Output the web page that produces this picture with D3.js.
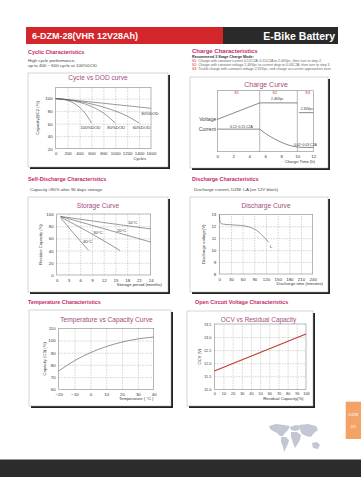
<!DOCTYPE html>
<html>
<head>
<meta charset="utf-8">
<script src="https://cdn.jsdelivr.net/npm/d3@7"></script>
<style>
  body { margin: 0; background: #fff; }
  svg text { font-family: "Liberation Sans", Arial, sans-serif; }
</style>
</head>
<body>
<div id="sheet"></div>
<script>
// ---- data ----
const cycleTicks = [0, 200, 400, 600, 800, 1000, 1200, 1400, 1600];
const cycleCapTicks = [20, 40, 60, 80, 100];
const dod100 = [[0, 100], [100, 99], [200, 97], [300, 93], [400, 86], [500, 76], [600, 61]];
const dod80 = [[0, 100], [200, 98], [400, 94], [600, 87.5], [800, 77], [1000, 61]];
const dod60 = [[0, 100], [300, 97], [600, 91.5], [900, 83.5], [1200, 72], [1400, 61]];
const dod30 = [[0, 100], [400, 96.5], [800, 92.5], [1200, 88.5], [1600, 84.5]];
const dodLabels = [["100%DOD", 585, 54], ["80%DOD", 1015, 54], ["60%DOD", 1440, 54], ["30%DOD", 1580, 76]];

const chargeTicks = [0, 2, 4, 6, 8, 10, 12];
const stageBreaks = [5.3, 10];
const stageNames = [["S1", 2.4], ["S2", 7.2], ["S3", 11.3]];
// relative levels (0 = bottom, 1 = top of plot)
const voltageS1S2 = [[0, 0.53], [5.3, 0.8], [10, 0.8]];
const voltageS3 = [[10.2, 0.64], [12, 0.64]];
const currentS1 = [[0, 0.37], [5.3, 0.37]];
const currentS2S3 = [[5.3, 0.37], [6, 0.3], [7, 0.22], [8, 0.155], [9, 0.105], [10, 0.077], [11, 0.07], [12, 0.07]];
const chargeNotes = [["2.46Vpc", 7.5, 0.86], ["0.12~0.15 C2A", 3.0, 0.41], ["0.02~0.03 C2A", 11.0, 0.1], ["2.30Vpc", 11.2, 0.7]];

const monthTicks = [0, 3, 6, 9, 12, 15, 18, 21, 24];
const residueTicks = [0, 20, 40, 60, 80, 100];
const store10 = [[1, 96], [12, 86], [24, 75.5]];
const store20 = [[1, 96], [12, 76], [24, 54]];
const store30 = [[1, 95], [8, 71], [16.2, 40]];
const store40 = [[1, 94], [4.5, 67], [8.2, 40]];
const storeLabels = [["10°C", 19.4, 86], ["20°C", 16.6, 73], ["30°C", 10.5, 69], ["40°C", 7.9, 55]];

const minuteTicks = [0, 30, 60, 90, 120, 150, 180, 210, 240];
const voltTicks = [8, 9, 10, 11, 12, 13];
const discharge = [[0, 12.95], [2, 12.4], [5, 12.22], [10, 12.18], [30, 12.12], [60, 12.05], [75, 11.95], [90, 11.76], [100, 11.55], [110, 11.25], [120, 10.92], [127, 10.66]];

const tempTicks = [-20, -10, 0, 10, 20, 30, 40];
const tempCapTicks = [60, 70, 80, 90, 100, 110];
const tempCap = [[-20, 75], [-10, 83.5], [0, 90], [10, 95], [20, 98.7], [30, 101.3], [40, 102.8]];

const residualTicks = [0, 10, 20, 30, 40, 50, 60, 70, 80, 90, 100];
const ocvTicks = [11.0, 11.5, 12.0, 12.5, 13.0, 13.5];
const ocv = [[0, 11.7], [50, 12.41], [100, 13.12]];

const SECTION = "#c42a6b", CHART_T = "#a34d7c", LINE = "#555";

const svg = d3.select("#sheet").append("svg")
  .attr("width", 361).attr("height", 500);

// ---- header ----
svg.append("rect").attr("x", 26).attr("y", 27).attr("width", 197).attr("height", 17).attr("fill", "#d3262b");
svg.append("rect").attr("x", 223).attr("y", 27).attr("width", 115).attr("height", 17).attr("fill", "#2a2a2a");
svg.append("text").attr("x", 32).attr("y", 39).attr("fill", "#fff")
  .attr("font-size", 9).attr("font-weight", "bold").text("6-DZM-28(VHR 12V28Ah)");
svg.append("text").attr("x", 335).attr("y", 39.5).attr("fill", "#fff").attr("text-anchor", "end")
  .attr("font-size", 10.5).attr("font-weight", "bold").text("E-Bike Battery");

function heading(x, y, txt, size) {
  svg.append("text").attr("x", x).attr("y", y).attr("fill", SECTION)
    .attr("font-size", size || 5.4).attr("font-weight", "bold").text(txt);
}
function note(x, y, txt, size, col) {
  return svg.append("text").attr("x", x).attr("y", y).attr("fill", col || "#444")
    .attr("font-size", size || 4.4).text(txt);
}

heading(28, 54, "Cyclic Characteristics");
note(28, 62.3, "High cycle performance,");
note(28, 67.3, "up to 400 ~ 600 cycle at  100%DOD");

heading(192, 53.3, "Charge Characteristics", 6);
note(192, 58, "Recommend 3 Stage Charge Mode:", 3.7, "#333").attr("font-weight", "bold");
[["S1:", " Charge with constant current 0.12C2A~0.15C2A to 2.46Vpc, then turn to step 2."],
 ["S2:", " Charge with constant voltage 2.46Vpc to current drop to  0.03C2A, then turn to step 3."],
 ["S3:", " Trickle charge with constant voltage 2.30Vpc, and charge as current approaches zero."]]
  .forEach((s, i) => {
    const t = note(192, 61.8 + i * 4.3, "", 3.5, "#666");
    t.append("tspan").attr("fill", "#d3262b").text(s[0]);
    t.append("tspan").text(s[1]);
  });

heading(28, 181, "Self-Discharge Characteristics");
note(30, 190.8, "Capacity >90% after 90 days storage");
heading(192, 181, "Discharge Characteristics");
note(194, 190.8, "Discharge current,  DZM: I\u2082A (on 12V block)");
heading(28, 304, "Temperature Characteristics");
heading(195, 304, "Open Circuit Voltage  Characteristics");

// ---- chart panel helper ----
function panel(o) {
  const g = svg.append("g");
  const [bx0, by0, bx1, by1] = o.box;
  g.append("rect").attr("x", bx0 + 2).attr("y", by0 + 2)
    .attr("width", bx1 - bx0).attr("height", by1 - by0).attr("fill", "#222");
  g.append("rect").attr("x", bx0).attr("y", by0)
    .attr("width", bx1 - bx0).attr("height", by1 - by0)
    .attr("fill", "#fff").attr("stroke", "#aaa").attr("stroke-width", 0.5);
  g.append("text").attr("x", o.titleX).attr("y", o.titleY).attr("text-anchor", "middle")
    .attr("fill", CHART_T).attr("font-size", o.titleSize || 6.6).text(o.title);

  const [px0, py0, px1, py1] = o.plot;
  const x = d3.scaleLinear().domain(o.xDomain).range([px0, px1]);
  const y = d3.scaleLinear().domain(o.yDomain).range([py1, py0]);

  if (o.grid !== false) {
    g.append("g").attr("transform", `translate(0,${py1})`)
      .call(d3.axisBottom(x).tickValues(o.xTicks.slice(1, -1)).tickSize(-(py1 - py0)).tickFormat(""))
      .call(a => a.select(".domain").remove())
      .selectAll("line").attr("stroke", "#aaa").attr("stroke-width", 0.5).attr("stroke-dasharray", "1.5,1.2");
    g.append("g").attr("transform", `translate(${px0},0)`)
      .call(d3.axisLeft(y).tickValues(o.yTicks.filter(v => y(v) > py0 + 1 && y(v) < py1 - 1)).tickSize(-(px1 - px0)).tickFormat(""))
      .call(a => a.select(".domain").remove())
      .selectAll("line").attr("stroke", "#aaa").attr("stroke-width", 0.5).attr("stroke-dasharray", "1.5,1.2");
  }
  g.append("rect").attr("x", px0).attr("y", py0).attr("width", px1 - px0).attr("height", py1 - py0)
    .attr("fill", "none").attr("stroke", "#888").attr("stroke-width", 0.6);

  const tickFont = o.serif ? "Liberation Serif, serif" : "Liberation Sans, sans-serif";
  g.append("g").attr("transform", `translate(0,${py1})`)
    .call(d3.axisBottom(x).tickValues(o.xTicks).tickSize(0).tickPadding(3.5).tickFormat(o.xFormat || d3.format("")))
    .call(a => a.select(".domain").remove())
    .selectAll("text").attr("font-family", tickFont).attr("font-size", 4.4).attr("fill", "#333");
  if (o.yTicks.length) {
    g.append("g").attr("transform", `translate(${px0},0)`)
      .call(d3.axisLeft(y).tickValues(o.yTicks).tickSize(0).tickPadding(3).tickFormat(o.yFormat || d3.format("")))
      .call(a => a.select(".domain").remove())
      .selectAll("text").attr("font-family", tickFont).attr("font-size", 4.4).attr("fill", "#333");
  }
  g.append("text").attr("x", o.xLabelX).attr("y", py1 + 11).attr("text-anchor", "end")
    .attr("font-size", 4.2).attr("fill", "#333").text(o.xLabel);
  if (o.yLabel) {
    g.append("text").attr("transform", `translate(${o.yLabelX},${(py0 + py1) / 2}) rotate(-90)`)
      .attr("text-anchor", "middle").attr("font-size", 4.2).attr("fill", "#333").text(o.yLabel);
  }
  return { g, x, y };
}

function drawLine(p, data, color, width, curve) {
  p.g.append("path").datum(data)
    .attr("fill", "none").attr("stroke", color || LINE).attr("stroke-width", width || 0.6)
    .attr("d", d3.line().x(d => p.x(d[0])).y(d => p.y(d[1])).curve(curve || d3.curveMonotoneX));
}
function drawLabels(p, labels, size) {
  p.g.selectAll(null).data(labels).join("text")
    .attr("x", d => p.x(d[1])).attr("y", d => p.y(d[2]))
    .attr("text-anchor", "middle").attr("dominant-baseline", "middle")
    .attr("font-family", "Liberation Serif, serif").attr("font-size", size || 4.2).attr("fill", "#333")
    .text(d => d[0]);
}

// ---- Cycle vs DOD ----
const cyc = panel({
  box: [28, 73, 168, 167], plot: [55.7, 87.3, 151, 148.7],
  title: "Cycle vs DOD curve", titleX: 98, titleY: 79.5,
  xDomain: [0, 1600], yDomain: [20, 118], xTicks: cycleTicks, yTicks: cycleCapTicks,
  xLabel: "Cycles", xLabelX: 146, yLabel: "Capacity@C2 (%)", yLabelX: 39, serif: true
});
[dod100, dod80, dod60, dod30].forEach(s => drawLine(cyc, s));
drawLabels(cyc, dodLabels);

// ---- Charge curve ----
const chg = panel({
  box: [190, 77, 328, 168], plot: [217.3, 90.7, 313.3, 151.7],
  title: "Charge Curve", titleX: 266, titleY: 86.5, titleSize: 7,
  xDomain: [0, 12], yDomain: [0, 1], xTicks: chargeTicks, yTicks: [], grid: false,
  xLabel: "Charge Time (h)", xLabelX: 315, serif: true
});
chg.g.selectAll(null).data(stageBreaks).join("line")
  .attr("x1", d => chg.x(d)).attr("x2", d => chg.x(d))
  .attr("y1", chg.y(1)).attr("y2", chg.y(0))
  .attr("stroke", "#888").attr("stroke-width", 0.6);
chg.g.selectAll(null).data(stageNames).join("text")
  .attr("x", d => chg.x(d[1])).attr("y", chg.y(0.95)).attr("text-anchor", "middle")
  .attr("font-size", 3.8).attr("fill", "#d3262b").text(d => d[0]);
drawLine(chg, voltageS1S2, LINE, 0.7, d3.curveLinear);
drawLine(chg, voltageS3, LINE, 0.7, d3.curveLinear);
drawLine(chg, currentS1, LINE, 0.7, d3.curveLinear);
drawLine(chg, currentS2S3, LINE, 0.7);
drawLabels(chg, chargeNotes, 3.4);
chg.g.append("text").attr("x", 216.5).attr("y", chg.y(0.53) + 1.6).attr("text-anchor", "end")
  .attr("font-size", 5.2).attr("fill", "#444").text("Voltage");
chg.g.append("text").attr("x", 216).attr("y", chg.y(0.37) + 1.6).attr("text-anchor", "end")
  .attr("font-size", 5.2).attr("fill", "#444").text("Current");

// ---- Storage curve ----
const sto = panel({
  box: [28, 197, 168, 292], plot: [56.7, 214, 150.7, 275],
  title: "Storage  Curve", titleX: 98, titleY: 208.2,
  xDomain: [0, 24], yDomain: [0, 100], xTicks: monthTicks, yTicks: residueTicks,
  xLabel: "Storage period (months)", xLabelX: 162, yLabel: "Residue Capacity (%)", yLabelX: 42, serif: true
});
[store10, store20, store30, store40].forEach(s => drawLine(sto, s));
drawLabels(sto, storeLabels);

// ---- Discharge curve ----
const dis = panel({
  box: [190, 197, 328, 292], plot: [219.3, 214.3, 312.7, 274],
  title: "Discharge Curve", titleX: 266, titleY: 208.2,
  xDomain: [0, 240], yDomain: [8, 13], xTicks: minuteTicks, yTicks: voltTicks,
  xLabel: "Discharge time (minutes)", xLabelX: 323, yLabel: "Discharge voltage(V)", yLabelX: 205, serif: true
});
drawLine(dis, discharge);
drawLabels(dis, [["I\u2082", 133, 10.3]]);

// ---- Temperature vs capacity ----
const tmp = panel({
  box: [29, 310, 171, 406], plot: [58.7, 328.3, 153.7, 389.3],
  title: "Temperature vs Capacity Curve", titleX: 106.5, titleY: 321.5,
  xDomain: [-20, 40], yDomain: [60, 110], xTicks: tempTicks, yTicks: tempCapTicks,
  xLabel: "Temperature ( °C )", xLabelX: 153.5, yLabel: "Capacity (C3) (%)", yLabelX: 46
});
drawLine(tmp, tempCap, "#666", 0.7);

// ---- OCV vs residual capacity ----
const ocvP = panel({
  box: [187, 311, 313, 406], plot: [214.3, 324, 306, 389.3],
  title: "OCV  vs Residual Capacity", titleX: 258.5, titleY: 321.5, titleSize: 6.4,
  xDomain: [0, 100], yDomain: [11, 13.5], xTicks: residualTicks, yTicks: ocvTicks,
  xLabel: "Residual Capacity(%)", xLabelX: 303.5, yLabel: "OCV (V)", yLabelX: 201,
  yFormat: d3.format(".1f")
});
ocvP.g.selectAll(".tick text").attr("font-size", 3.8);
drawLine(ocvP, ocv, "#c0392b", 1.1, d3.curveLinear);

// ---- side tab ----
svg.append("rect").attr("x", 345.7).attr("y", 401.7).attr("width", 15.3).attr("height", 37.3).attr("fill", "#f4a266");
svg.append("text").attr("x", 353.3).attr("y", 416).attr("text-anchor", "middle")
  .attr("font-size", 4.4).attr("fill", "#fff").text("DZM");
svg.append("text").attr("x", 353.3).attr("y", 428).attr("text-anchor", "middle")
  .attr("font-size", 4.2).attr("fill", "#fff").text("2/2");

// ---- world map decoration (rough silhouette) ----
const continents = [
  "M269,426 L276,424 L284,425 L290,426 L288,430 L285,433 L283,436 L280,436 L277,433 L273,431 L270,429 Z",
  "M281,437 L286,437 L289,440 L288,444 L286,448 L284,452 L283,447 L281,442 Z",
  "M290,427 L296,425 L300,426 L299,430 L295,431 L291,430 Z",
  "M291,432 L297,432 L301,435 L300,440 L297,445 L295,448 L293,443 L291,437 Z",
  "M299,425 L308,424 L316,426 L318,430 L314,433 L311,437 L306,436 L302,434 L300,430 Z",
  "M312,443 L317,442 L320,445 L318,449 L313,448 Z"
];
svg.selectAll(null).data(continents).join("path")
  .attr("d", d => d).attr("fill", "#c3c6d3");

// ---- footer ----
svg.append("rect").attr("x", 0).attr("y", 459.5).attr("width", 361).attr("height", 17.5).attr("fill", "#2c2c2c");
</script>
</body>
</html>
